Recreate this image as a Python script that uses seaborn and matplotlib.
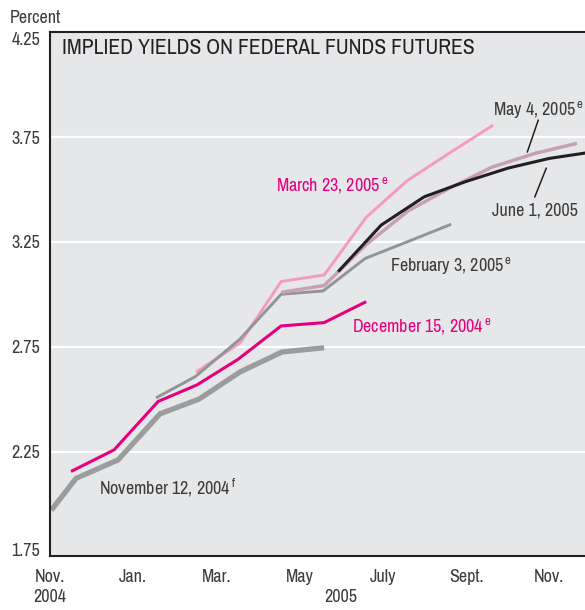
import numpy as np
import pandas as pd
import matplotlib
matplotlib.use('Agg')
import matplotlib.pyplot as plt
import seaborn as sns

# x positions are months counted from Nov. 2004 (0 = Nov. 2004, 12 = Nov. 2005)
nov12_x = [0.03, 0.625, 1.635, 2.645, 3.58, 4.57, 5.58, 6.59]
nov12_y = [1.97, 2.122, 2.21, 2.43, 2.50, 2.63, 2.725, 2.745]

dec15_x = [0.505, 1.54, 2.60, 3.535, 4.52, 5.555, 6.59, 7.60]
dec15_y = [2.155, 2.258, 2.489, 2.568, 2.69, 2.849, 2.865, 2.965]

feb3_x = [2.55, 3.49, 4.57, 5.555, 6.565, 7.576, 8.61, 9.644]
feb3_y = [2.506, 2.607, 2.787, 3.00, 3.016, 3.171, 3.252, 3.334]

mar23_x = [3.51, 4.57, 5.555, 6.59, 7.60, 8.586, 9.62, 10.654]
mar23_y = [2.629, 2.768, 3.061, 3.092, 3.367, 3.542, 3.676, 3.807]

may4_x = [5.555, 6.59, 7.60, 8.61, 9.62, 10.63, 11.66, 12.67]
may4_y = [3.009, 3.042, 3.237, 3.398, 3.508, 3.607, 3.672, 3.72]

jun1_x = [6.926, 7.96, 8.995, 10.0, 11.015, 12.0, 13.01]
jun1_y = [3.108, 3.33, 3.465, 3.538, 3.602, 3.648, 3.678]

major_months = [0, 2, 4, 6, 8, 10, 12]
major_labels = ['Nov.\n2004', 'Jan.', 'Mar.', 'May', 'July', 'Sept.', 'Nov.']
minor_months = [1, 3, 5, 7, 9, 11]
minor_labels = ['', '', '', '\n2005', '', '']
y_ticks = [1.75, 2.25, 2.75, 3.25, 3.75, 4.25]

BG = '#e6e7e8'
DARK = '#231f20'
MAGENTA = '#e6007e'
GRAYTXT = '#3c3c3c'

sns.set_style('white', {'axes.facecolor': BG})
FONT = ['Archivo Narrow', 'Liberation Sans Narrow', 'Roboto', 'DejaVu Sans']
plt.rcParams['font.family'] = FONT
plt.rcParams['mathtext.fontset'] = 'custom'
plt.rcParams['mathtext.rm'] = 'Archivo Narrow'

fig = plt.figure(figsize=(5.85, 6.10), dpi=100)
ax = fig.add_axes([50 / 585, (610 - 556.4) / 610, 535 / 585, 524.2 / 610])

series = [
    (nov12_x, nov12_y, '#9b9c9e', 3.8),
    (dec15_x, dec15_y, MAGENTA, 2.2),
    (mar23_x, mar23_y, '#f59ac0', 2.1),
    (feb3_x, feb3_y, '#939496', 2.1),
    (may4_x, may4_y, '#c8a0b4', 2.5),
    (jun1_x, jun1_y, DARK, 2.2),
]
for xs, ys, col, lw in series:
    df = pd.DataFrame({'month': xs, 'rate': ys})
    sns.lineplot(data=df, x='month', y='rate', color=col, linewidth=lw,
                 ax=ax, solid_capstyle='butt', solid_joinstyle='miter')

ax.set_xlim(0, 12.86)
ax.set_ylim(1.75, 4.25)
ax.set_xlabel('')
ax.set_ylabel('')

# axes, ticks, grid
ax.set_yticks(y_ticks)
ax.set_yticklabels([f'{v:.2f}' for v in y_ticks])
ax.set_xticks(major_months)
ax.set_xticklabels(major_labels)
ax.set_xticks(minor_months, minor=True)
ax.set_xticklabels(minor_labels, minor=True)
ax.grid(axis='y', color='white', linewidth=1.6)
ax.set_axisbelow(True)
for side in ['left', 'top', 'bottom']:
    ax.spines[side].set_color(DARK)
    ax.spines[side].set_linewidth(1.5)
ax.spines['right'].set_visible(False)
ax.tick_params(axis='y', which='major', direction='in', length=13, width=1.5,
               color=DARK, pad=7, labelsize=13, labelcolor=GRAYTXT)
ax.tick_params(axis='x', which='major', direction='in', length=12.5, width=1.5,
               color=DARK, pad=9, labelsize=13, labelcolor=GRAYTXT)
ax.tick_params(axis='x', which='minor', direction='in', length=6.5, width=1.5,
               color=DARK, pad=9, labelsize=13, labelcolor=GRAYTXT)
ylabs = ax.get_yticklabels()
ylabs[0].set_va('baseline')
ylabs[-1].set_va('top')
for lab in ax.get_xticklabels() + ax.get_xticklabels(minor=True):
    lab.set_linespacing(1.3)

fig.text(10 / 585, 1 - 22.7 / 610, 'Percent', ha='left', va='baseline',
         fontsize=13, color=GRAYTXT)
ax.text(0.022, 0.958, 'IMPLIED YIELDS ON FEDERAL FUNDS FUTURES',
        transform=ax.transAxes, ha='left', va='baseline', fontsize=15.6, color=DARK)

# series labels
lab_kw = dict(ha='left', va='baseline', fontsize=13)
ax.text(5.435, 3.497, r'March 23, 2005$^{\,\mathrm{e}}$', color=MAGENTA, **lab_kw)
ax.text(8.177, 3.112, r'February 3, 2005$^{\,\mathrm{e}}$', color=GRAYTXT, **lab_kw)
ax.text(7.256, 2.822, r'December 15, 2004$^{\,\mathrm{e}}$', color=MAGENTA, **lab_kw)
ax.text(1.186, 2.043, r'November 12, 2004$^{\,\mathrm{f}}$', color=GRAYTXT, **lab_kw)
ax.text(10.66, 3.855, r'May 4, 2005$^{\,\mathrm{e}}$', color=GRAYTXT, **lab_kw)
ax.text(10.62, 3.378, 'June 1, 2005', color=GRAYTXT, **lab_kw)

# leader lines
ax.annotate('', xy=(11.472, 3.678), xytext=(11.737, 3.831),
            arrowprops=dict(arrowstyle='-', color=DARK, lw=1.1,
                            shrinkA=0, shrinkB=0))
ax.annotate('', xy=(11.652, 3.464), xytext=(11.93, 3.602),
            arrowprops=dict(arrowstyle='-', color=DARK, lw=1.1,
                            shrinkA=0, shrinkB=0))

fig.savefig('out.png', dpi=100, facecolor='white')
